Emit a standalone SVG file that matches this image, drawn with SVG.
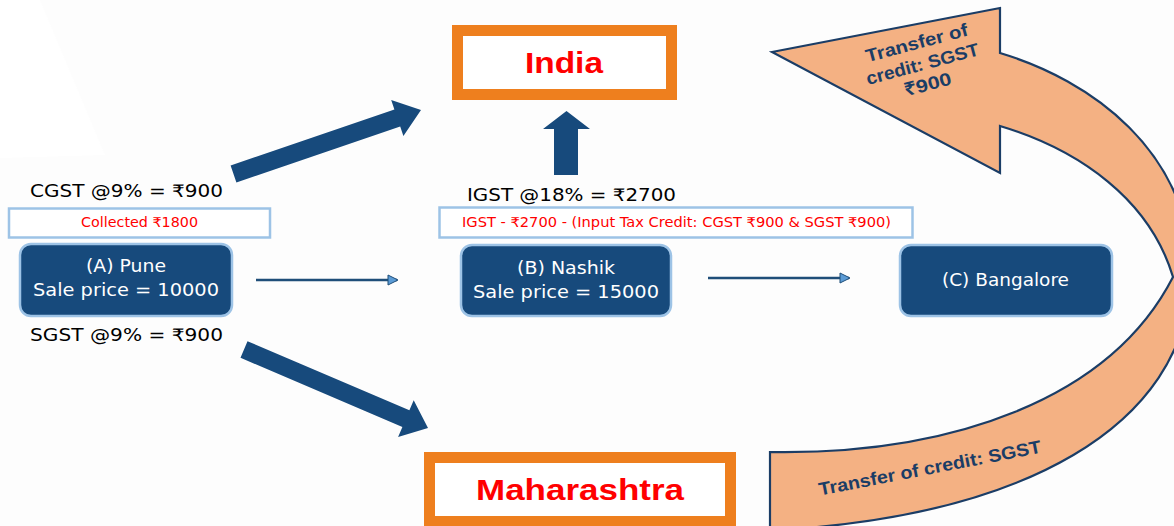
<svg xmlns="http://www.w3.org/2000/svg" width="1174" height="526" viewBox="0 0 1174 526">
<defs>
<style>
.lbl{font-family:"DejaVu Sans","Noto Sans","Liberation Sans",sans-serif;font-size:17px;fill:#000}
.ntx{font-family:"DejaVu Sans","Noto Sans","Liberation Sans",sans-serif;font-size:17px;fill:#fff;text-anchor:middle}
.red{font-family:"DejaVu Sans","Noto Sans","Liberation Sans",sans-serif;font-size:13.5px;fill:#ff0000;text-anchor:middle}
.node{fill:#174a7c;stroke:#9dc3e6;stroke-width:2.5}
.note{fill:#fff;stroke:#9dc3e6;stroke-width:2.5}
.gov{fill:#fff;stroke:#ee7f1e;stroke-width:11}
.govt{font-family:"Liberation Sans",Arial,sans-serif;font-weight:bold;font-size:29px;fill:#ff0000;text-anchor:middle}
.big{fill:#174a7c}
.conn{stroke:#1f4e79;stroke-width:2.5;fill:none}
.otx{font-family:"Liberation Sans",Arial,sans-serif;font-weight:bold;font-size:18px;fill:#1b3d66;text-anchor:middle}
</style>
<marker id="ah" markerWidth="12" markerHeight="12" refX="10" refY="6" orient="auto" markerUnits="userSpaceOnUse">
<path d="M1,1 L11,6 L1,11 Z" fill="#5b9bd5" stroke="#1f4e79" stroke-width="1"/>
</marker>
</defs>
<rect width="1174" height="526" fill="#fdfdfd"/>
<polygon points="0,0 40,0 105,155 0,158" fill="#ffffff"/>

<g id="india">
<rect class="gov" x="457.5" y="30.5" width="214" height="64"/>
<text class="govt" x="564" y="73" textLength="78" lengthAdjust="spacingAndGlyphs">India</text>
</g>
<g id="maharashtra">
<rect class="gov" x="429.5" y="457.5" width="301" height="64"/>
<text class="govt" x="580" y="500" textLength="208" lengthAdjust="spacingAndGlyphs">Maharashtra</text>
</g>

<g id="credit-arrow">
<path d="M772,52 L1000,8 L1000,53 C1090,80 1190,150 1192,275 C1185,430 1020,515 780,530 L770,530 L770,452 C950,455 1110,400 1173,277 C1150,200 1080,150 1000,126 L1000,173 Z" fill="#f4b183" stroke="#1b3d66" stroke-width="2.2" stroke-linejoin="miter"/>
<g transform="translate(924,70) rotate(-15)">
<text class="otx" x="0" y="-22" textLength="105" lengthAdjust="spacingAndGlyphs">Transfer of</text>
<text class="otx" x="0" y="0" textLength="116" lengthAdjust="spacingAndGlyphs">credit: SGST</text>
<text class="otx" x="0" y="21" textLength="48" lengthAdjust="spacingAndGlyphs">₹900</text>
</g>
<g transform="translate(931,474) rotate(-11)">
<text class="otx" x="0" y="0" textLength="226" lengthAdjust="spacingAndGlyphs">Transfer of credit: SGST</text>
</g>
</g>

<g id="connectors">
<polygon class="big" points="230.6,165.5 394.4,109.6 391.2,100.1 421,110 403.4,136.1 400.2,126.6 236.4,182.5"/>
<polygon class="big" points="247.5,341.2 409.4,410.3 413.7,400.2 428,428 398.1,437 402.4,426.9 240.5,357.8"/>
<polygon class="big" points="543,129 566.5,111 590,129 578,129 578,175 554,175 554,129"/>
<line class="conn" x1="256" y1="280" x2="397" y2="280" marker-end="url(#ah)"/>
<line class="conn" x1="708" y1="278" x2="849" y2="278" marker-end="url(#ah)"/>
</g>

<g id="cgst">
<text class="lbl" x="30" y="197" textLength="193" lengthAdjust="spacingAndGlyphs">CGST @9% = ₹900</text>
</g>
<g id="collected">
<rect class="note" x="9" y="208.5" width="261" height="29"/>
<text class="red" x="139.5" y="227" textLength="117" lengthAdjust="spacingAndGlyphs">Collected ₹1800</text>
</g>
<g id="pune">
<rect class="node" x="20" y="244" width="212" height="72" rx="11"/>
<text class="ntx" x="126" y="272" textLength="80" lengthAdjust="spacingAndGlyphs">(A) Pune</text>
<text class="ntx" x="126" y="296" textLength="186" lengthAdjust="spacingAndGlyphs">Sale price = 10000</text>
</g>
<g id="sgst">
<text class="lbl" x="30" y="341" textLength="193" lengthAdjust="spacingAndGlyphs">SGST @9% = ₹900</text>
</g>

<g id="igst">
<text class="lbl" x="467" y="201" textLength="209" lengthAdjust="spacingAndGlyphs">IGST @18% = ₹2700</text>
</g>
<g id="igst-note">
<rect class="note" x="439.5" y="207.5" width="473" height="30"/>
<text class="red" x="676.5" y="227" textLength="429" lengthAdjust="spacingAndGlyphs">IGST - ₹2700 - (Input Tax Credit: CGST ₹900 &amp; SGST ₹900)</text>
</g>
<g id="nashik">
<rect class="node" x="461" y="245" width="210" height="71" rx="11"/>
<text class="ntx" x="566" y="274" textLength="98" lengthAdjust="spacingAndGlyphs">(B) Nashik</text>
<text class="ntx" x="566" y="298" textLength="186" lengthAdjust="spacingAndGlyphs">Sale price = 15000</text>
</g>
<g id="bangalore">
<rect class="node" x="900" y="245" width="212" height="71" rx="11"/>
<text class="ntx" x="1005.5" y="286" textLength="127" lengthAdjust="spacingAndGlyphs">(C) Bangalore</text>
</g>
</svg>
